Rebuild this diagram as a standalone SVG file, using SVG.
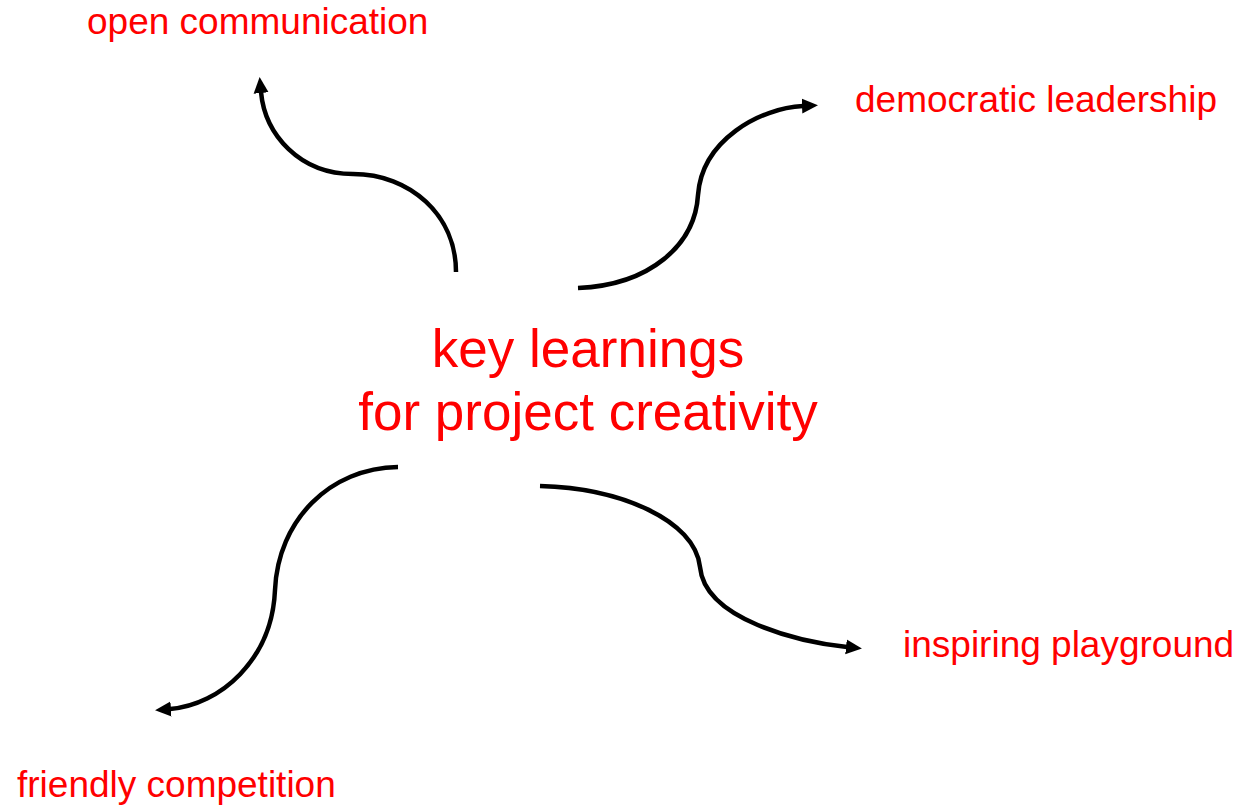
<svg xmlns="http://www.w3.org/2000/svg" width="1241" height="811" viewBox="0 0 1241 811">
<style>
  .lbl { font-family: "Liberation Sans", Arial, sans-serif; fill: #ff0000; font-size: 37px; }
  .ctr { font-family: "Liberation Sans", Arial, sans-serif; fill: #ff0000; font-size: 53px; text-anchor: middle; }
  .conn { fill: none; stroke: #000; stroke-width: 4.5; marker-end: url(#ah); }
</style>
<defs>
  <marker id="ah" markerUnits="userSpaceOnUse" markerWidth="16" markerHeight="16" viewBox="0 0 16 16" refX="1" refY="8" orient="auto">
    <path d="M0,0.5 L16,8 L0,15.5 z" fill="#000"/>
  </marker>
</defs>
<rect width="1241" height="811" fill="#fff"/>
<g id="connectors">
  <path class="conn" d="M456,272 C456,215 410,174 353,174 C300,174 265,135 261,92"/>
  <path class="conn" d="M578,288 C650,285 695,245 698,195 C702,140 760,108 803,106"/>
  <path class="conn" d="M398,467 C330,468 278,520 275,590 C272,660 220,705 170,709"/>
  <path class="conn" d="M540,486 C620,488 695,520 700,567 C705,620 800,642 847,647"/>
</g>
<g id="center"><text class="ctr" x="588" y="367">key learnings</text><text class="ctr" x="588" y="430">for project creativity</text></g>
<g id="open-communication"><text class="lbl" x="87" y="34">open communication</text></g>
<g id="democratic-leadership"><text class="lbl" x="855" y="112">democratic leadership</text></g>
<g id="inspiring-playground"><text class="lbl" x="903" y="657">inspiring playground</text></g>
<g id="friendly-competition"><text class="lbl" x="17" y="797">friendly competition</text></g>
</svg>
